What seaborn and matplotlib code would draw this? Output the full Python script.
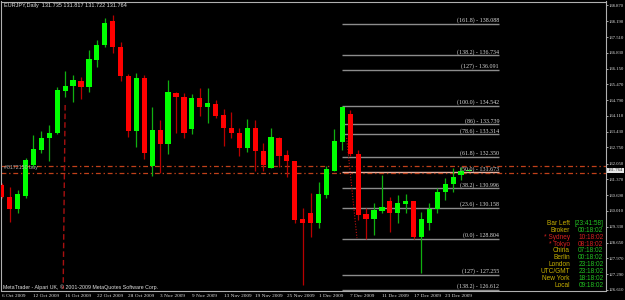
import matplotlib
matplotlib.use("Agg")
import matplotlib.pyplot as plt
import matplotlib.transforms as mtransforms
import seaborn as sns
import pandas as pd

# EURJPY daily candles, 6 Oct 2009 .. 24 Dec 2009
opens = [131.13, 130.63, 130.08, 130.67, 131.99, 132.64, 133.14, 133.36, 135.20, 135.40,
         135.61, 135.34, 136.52, 137.17, 138.20, 137.07, 135.83, 133.47, 135.76, 131.96,
         133.50, 132.90, 135.11, 134.91, 133.54, 134.87, 134.51, 134.62, 134.15, 133.60,
         133.36, 132.74, 133.57, 132.61, 131.88, 133.17, 132.42, 132.16, 129.65, 129.93,
         129.50, 130.70, 131.75, 132.99, 134.19, 132.47, 129.88, 129.65, 130.02, 130.44,
         129.91, 130.31, 130.44, 128.90, 129.50, 130.08, 130.81, 131.17, 131.56, 131.735]
highs = [131.22, 131.06, 130.91, 132.28, 133.29, 133.46, 133.72, 135.34, 136.05, 135.87,
         135.80, 136.95, 137.38, 138.32, 138.46, 137.31, 135.92, 135.95, 135.87, 134.51,
         133.93, 135.66, 135.14, 135.08, 135.04, 135.33, 135.30, 134.80, 134.41, 134.29,
         133.57, 133.98, 133.93, 132.93, 133.57, 133.20, 132.64, 132.18, 130.12, 130.80,
         131.25, 131.95, 133.53, 134.542, 134.36, 132.64, 130.12, 130.34, 131.56, 130.62,
         130.70, 130.74, 130.46, 129.98, 130.34, 131.01, 131.44, 131.85, 131.92, 131.817]
lows = [130.55, 129.52, 129.94, 130.57, 131.92, 132.50, 132.18, 133.33, 134.91, 134.72,
        134.83, 135.15, 136.23, 137.09, 136.81, 135.63, 133.21, 132.76, 132.25, 131.53,
        131.63, 132.45, 133.36, 133.17, 133.33, 134.11, 133.79, 134.00, 132.82, 133.14,
        132.39, 132.54, 131.73, 131.73, 131.86, 131.92, 131.49, 129.50, 126.82, 128.90,
        129.26, 130.58, 131.73, 132.64, 132.39, 129.62, 128.804, 128.97, 129.91, 129.12,
        129.48, 129.91, 128.82, 127.35, 129.19, 129.91, 130.48, 130.84, 131.35, 131.722]
closes = [130.61, 130.08, 130.73, 132.21, 132.67, 133.17, 133.36, 135.23, 135.41, 135.66,
          135.34, 136.55, 137.17, 138.10, 137.07, 135.83, 133.47, 135.76, 132.52, 133.50,
          132.90, 135.13, 134.91, 133.36, 134.87, 134.51, 134.65, 134.12, 133.57, 133.36,
          132.74, 133.57, 132.61, 131.99, 133.21, 132.39, 132.16, 129.62, 129.50, 129.50,
          130.73, 131.81, 133.04, 134.48, 132.47, 129.84, 129.65, 130.05, 130.19, 129.91,
          130.34, 130.45, 128.90, 129.66, 130.09, 130.84, 131.17, 131.49, 131.73, 131.764]

date_labels = ["6 Oct 2009", "12 Oct 2009", "16 Oct 2009", "22 Oct 2009", "28 Oct 2009",
               "3 Nov 2009", "9 Nov 2009", "13 Nov 2009", "19 Nov 2009", "25 Nov 2009",
               "1 Dec 2009", "7 Dec 2009", "11 Dec 2009", "17 Dec 2009", "23 Dec 2009"]
price_ticks = [138.870, 138.190, 137.510, 136.830, 136.150, 135.470, 134.790, 134.110,
               133.430, 132.750, 132.050, 131.370, 130.690, 130.010, 129.330, 128.650,
               127.970, 127.290, 126.610]
last_price = 131.764

fib_names = ["(161.8)", "(138.2)", "(127)", "(100.0)", "(86)", "(78.6)", "(61.8)",
             "(50.0)", "(38.2)", "(23.6)", "(0.0)", "(127)", "(138.2)"]
fib_levels = [138.088, 136.734, 136.091, 134.542, 133.739, 133.314, 132.350,
              131.673, 130.996, 130.158, 128.804, 127.255, 126.612]

order_levels = [131.94, 131.65]
order_label = "#8172150 buy"

clock_names = ["Bar Left", "Broker", "* Sydney", "* Tokyo", "China", "Berlin",
               "London", "UTC/GMT", "New York", "Local"]
clock_times = ["[23:41:58]", "00:18:02", "10:18:02", "08:18:02", "07:18:02", "00:18:02",
               "23:18:02", "23:18:02", "18:18:02", "09:18:02"]

df = pd.DataFrame({"open": opens, "high": highs, "low": lows, "close": closes})
df["bar"] = range(len(df))
df["up"] = df["close"] >= df["open"]

sns.set_theme(style="dark", rc={"axes.facecolor": "black", "figure.facecolor": "black",
                                "lines.scale_dashes": False})
plt.rcParams["font.family"] = ["Liberation Sans", "DejaVu Sans"]
SERIF = ["Liberation Serif", "DejaVu Serif"]

W, H = 625, 300
fig = plt.figure(figsize=(W / 100, H / 100), dpi=100, facecolor="black")
ax = fig.add_axes([1 / W, 9.5 / H, 605 / W, 289 / H], facecolor="black")
ax.set_xlim(-0.1, 76.3)
ax.set_ylim(126.581, 139.042)

# candles
wick_cols = ["#10b010" if u else "#b80000" for u in df["up"]]
body_cols = ["#00ff00" if u else "#ff0000" for u in df["up"]]
ax.vlines(df["bar"], df["low"], df["high"], colors=wick_cols, lw=0.9, zorder=2)
heights = (df["close"] - df["open"]).abs().clip(lower=0.035)
bottoms = df[["open", "close"]].min(axis=1)
ax.bar(df["bar"], heights, bottom=bottoms, width=0.66, color=body_cols, lw=0, zorder=3)

# fibonacci levels
fx0, fx1 = 42.9, 62.8
lab_tr = mtransforms.offset_copy(ax.transData, fig=fig, x=0, y=0.5, units="dots")
for name, lv in zip(fib_names, fib_levels):
    col = "#e8b4a4" if name == "(50.0)" else "#8c8c8c"
    ax.hlines(lv, fx0, fx1, colors=col, lw=1.0, zorder=1)
    ax.text(fx1, lv, f"{name} - {lv:.3f}", transform=lab_tr, ha="right", va="bottom",
            fontsize=4.3, color="#d8d8d8", family=SERIF)

# order lines
for lv in order_levels:
    ax.axhline(lv, color="#c0401a", lw=0.9, ls=(0, (3.5, 2, 1, 2)), zorder=1)
ax.plot([8.0, 7.75], [134.58, 126.65], color="#a81010", lw=1.0, ls=(0, (4, 2.2)), zorder=1)
ax.plot([43.55, 44.85], [133.16, 128.84], color="#c01010", lw=0.8, ls=(0, (0.8, 1.2)), zorder=1)

# axes cosmetics
for sp in ax.spines.values():
    sp.set_color("#b0b0b0")
    sp.set_linewidth(0.8)
ax.yaxis.tick_right()
ax.set_yticks(price_ticks)
ax.set_yticklabels([f"{p:.3f}" for p in price_ticks])
ax.set_xticks(range(0, 4 * len(date_labels), 4))
ax.set_xticklabels(date_labels, ha="left")
ax.tick_params(axis="both", length=2, width=0.6, color="#c0c0c0",
               labelcolor="#e0e0e0", pad=0.8)
ax.tick_params(axis="x", labelsize=3.8)
ax.tick_params(axis="y", labelsize=3.4, pad=0.5, length=1.5)
for t in ax.get_xticklabels() + ax.get_yticklabels():
    t.set_family(SERIF)
ax.grid(False)

# current price marker on the scale
cur_tr = mtransforms.offset_copy(
    mtransforms.blended_transform_factory(ax.transAxes, ax.transData),
    fig=fig, x=2.0, y=0, units="dots")
ax.text(1.0, last_price, f"{last_price:.3f}", transform=cur_tr, ha="left", va="center",
        fontsize=3.4, color="#303030", family=SERIF,
        bbox=dict(boxstyle="square,pad=0.15", fc="#e6e6e6", ec="none"), clip_on=False)

# texts
def px(x, y):
    return x / W, 1 - y / H

fig.text(*px(4, 5.5), "EURJPY,Daily  131.735 131.817 131.722 131.764", va="center",
         fontsize=4.0, color="#e0e0e0")
fig.text(*px(4, 167.5), order_label, va="center", fontsize=3.8, color="#b0b0b0")
fig.text(*px(3, 287), "MetaTrader - Alpari UK, \u00a9 2001-2009 MetaQuotes Software Corp.",
         va="center", fontsize=3.8, color="#e0e0e0")

for i, (name, tm) in enumerate(zip(clock_names, clock_times)):
    y = 223.3 + 6.9 * i
    red = name.startswith("*")
    fig.text(*px(570, y), name, ha="right", va="center", fontsize=4.7,
             color="#d42020" if red else "#c8b000")
    fig.text(*px(603.5, y), tm, ha="right", va="center", fontsize=4.7,
             color="#d42020" if red else "#22c322")

fig.savefig("out.png", dpi=100, facecolor="black")
